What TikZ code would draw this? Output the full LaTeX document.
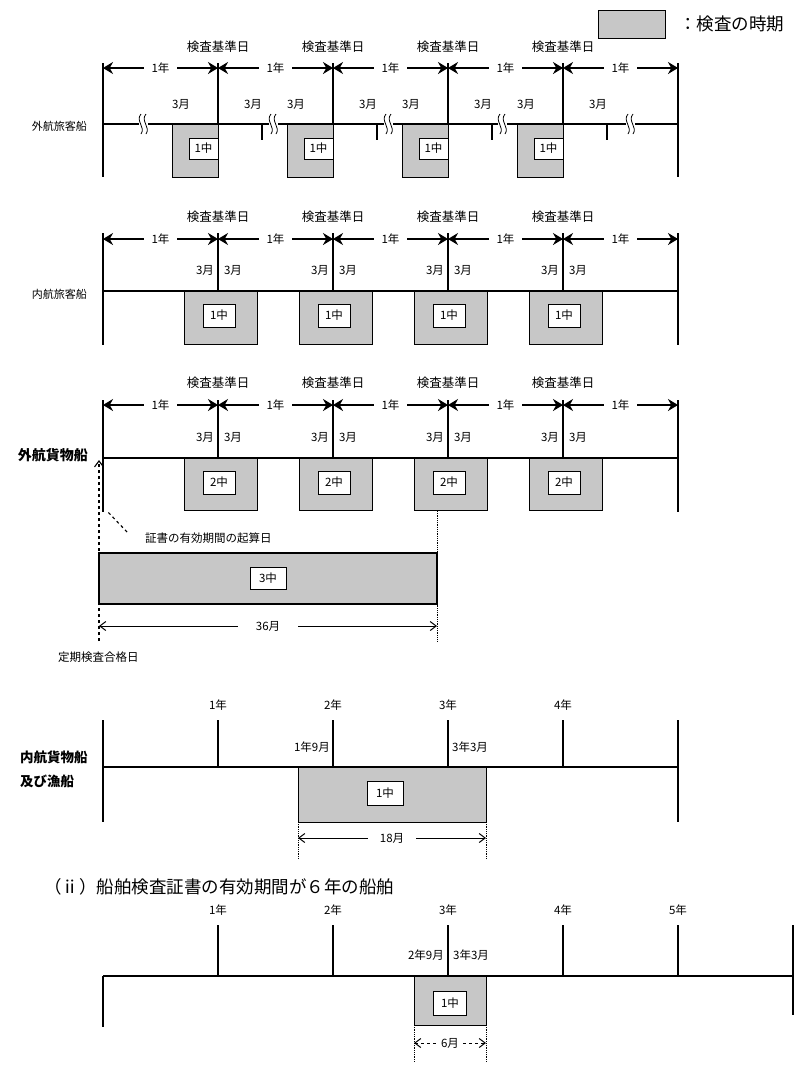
\documentclass[tikz,border=0pt]{standalone}
\usepackage{fontspec}
\newfontfamily\jp{Noto Sans CJK JP}
\usetikzlibrary{arrows.meta}
\newcommand\brkmark[2]{%
  \fill[white] (#1-4,#2-3) rectangle (#1+5,#2+3);
  \draw[line width=0.8pt] (#1-2,#2-10) .. controls (#1-8,#2-3) and (#1+3,#2+3) .. (#1-2,#2+10);
  \draw[line width=0.8pt] (#1+3,#2-10) .. controls (#1-3,#2-3) and (#1+8,#2+3) .. (#1+3,#2+10);
}
\begin{document}
\begin{tikzpicture}[x=1pt,y=-1pt,
  every node/.style={font=\jp, inner sep=1pt},
  lbl/.style={font=\jp\fontsize{11.5}{12}\selectfont},
  hd/.style={font=\jp\fontsize{12.5}{13}\selectfont},
  ship/.style={font=\jp\fontsize{11}{12}\selectfont},
  shipb/.style={font=\jp\bfseries\fontsize{14}{15}\selectfont},
  shade/.style={draw=black, line width=0.8pt, fill=black!22, inner sep=0pt},
  inbox/.style={draw=black, line width=0.8pt, fill=white, inner sep=0pt, font=\jp\fontsize{11.5}{12}\selectfont},
  tl/.style={line width=1.1pt},
  yr/.style={line width=2.6pt, {Stealth[length=10pt,width=12pt]}-{Stealth[length=10pt,width=12pt]}},
  yrlbl/.style={fill=white, inner xsep=8pt, inner ysep=1pt, font=\jp\fontsize{11.5}{12}\selectfont},
  dimarr/.style={line width=1pt, {Straight Barb[length=6pt,width=9pt]}-{Straight Barb[length=6pt,width=9pt]}},
  dimlbl/.style={fill=white, inner xsep=6pt, font=\jp\fontsize{11.5}{12}\selectfont},
  guide/.style={line width=0.8pt, densely dotted},
]
\useasboundingbox (0,0) rectangle (800,1074);

% ---------- legend ----------
\node[shade, minimum width=67pt, minimum height=28pt] (lgbox) at (631.5,24) {};
\node[anchor=west, inner sep=0pt, font=\jp\fontsize{17.5}{18}\selectfont] (lgtxt) at (679,24) {：検査の時期};

% ---------- section 1 : 外航旅客船 ----------
\foreach \i/\x in {0/103,1/218,2/333,3/448,4/563,5/678} {
  \coordinate (a\i t) at (\x,63);
  \coordinate (a\i m) at (\x,68);
  \coordinate (a\i l) at (\x,124);
  \coordinate (a\i b) at (\x,177);
}
\draw[tl] (a0t) -- (a0b);
\draw[tl] (a5t) -- (a5b);
\draw[tl] (a0l) -- (a5l);
\foreach \i/\x in {1/218,2/333,3/448,4/563} {
  \node[shade, minimum width=46pt, minimum height=53pt] (a\i box) at (\x-23,150.5) {};
  \node[inbox, minimum width=29pt, minimum height=21pt] (a\i in) at (\x-14.5,148.5) {1中};
  \draw[tl] (a\i t) -- (a\i l);
  \node[hd] (a\i hd) at (\x,47) {検査基準日};
  \node[lbl] (a\i ml) at (\x-37,104) {3月};
  \node[lbl] (a\i mr) at (\x+35,104) {3月};
  \coordinate (a\i k1) at (\x+44,124);
  \coordinate (a\i k2) at (\x+44,140);
  \draw[tl] (a\i k1) -- (a\i k2);
}
\foreach \i/\j in {0/1,1/2,2/3,3/4,4/5}
  \draw[yr] (a\i m) -- node[yrlbl] (a\i yr) {1年} (a\j m);
\foreach \x in {143,273,388,502,630} { \brkmark{\x}{124} }
\node[ship, anchor=east] (a ship) at (88,126) {外航旅客船};

% ---------- section 2 : 内航旅客船 ----------
\foreach \i/\x in {0/103,1/218,2/333,3/448,4/563,5/678} {
  \coordinate (b\i t) at (\x,233);
  \coordinate (b\i m) at (\x,239);
  \coordinate (b\i l) at (\x,291);
  \coordinate (b\i b) at (\x,345);
}
\foreach \i/\x in {1/218,2/333,3/448,4/563} {
  \node[shade, minimum width=73pt, minimum height=53pt] (b\i box) at (\x+2.5,317.5) {};
  \node[inbox, minimum width=32pt, minimum height=23pt] (b\i in) at (\x+1,315.5) {1中};
  \draw[tl] (b\i t) -- (b\i l);
  \node[hd] (b\i hd) at (\x,217) {検査基準日};
  \node[lbl] (b\i ml) at (\x-13,270) {3月};
  \node[lbl] (b\i mr) at (\x+15,270) {3月};
}
\draw[tl] (b0t) -- (b0b);
\draw[tl] (b5t) -- (b5b);
\draw[tl] (b0l) -- (b5l);
\foreach \i/\j in {0/1,1/2,2/3,3/4,4/5}
  \draw[yr] (b\i m) -- node[yrlbl] (b\i yr) {1年} (b\j m);
\node[ship, anchor=east] (b ship) at (88,294) {内航旅客船};

% ---------- section 3 : 外航貨物船 ----------
\foreach \i/\x in {0/103,1/218,2/333,3/448,4/563,5/678} {
  \coordinate (c\i t) at (\x,400);
  \coordinate (c\i m) at (\x,405);
  \coordinate (c\i l) at (\x,458);
  \coordinate (c\i b) at (\x,512);
}
\foreach \i/\x in {1/218,2/333,3/448,4/563} {
  \node[shade, minimum width=73pt, minimum height=52pt] (c\i box) at (\x+2.5,484) {};
  \node[inbox, minimum width=32pt, minimum height=23pt] (c\i in) at (\x+1,482.5) {2中};
  \draw[tl] (c\i t) -- (c\i l);
  \node[hd] (c\i hd) at (\x,383) {検査基準日};
  \node[lbl] (c\i ml) at (\x-13,437) {3月};
  \node[lbl] (c\i mr) at (\x+15,437) {3月};
}
\draw[tl] (c0t) -- (c0b);
\draw[tl] (c5t) -- (c5b);
\draw[tl] (c0l) -- (c5l);
\foreach \i/\j in {0/1,1/2,2/3,3/4,4/5}
  \draw[yr] (c\i m) -- node[yrlbl] (c\i yr) {1年} (c\j m);
\node[shipb, anchor=east] (c ship) at (89,455) {外航貨物船};

% 3中 period
\coordinate (d tip) at (99,460);
\coordinate (d bot) at (99,641);
\draw[line width=1.1pt, dashed, -{Straight Barb[length=6pt,width=9pt]}] (d bot) -- (d tip);
\coordinate (e top) at (437,511);
\coordinate (e bot) at (437,641);
\draw[guide] (e top) -- (e bot);
\node[shade, line width=1.4pt, minimum width=338pt, minimum height=51pt] (d box) at (268,578.5) {};
\node[inbox, minimum width=36pt, minimum height=22pt] (d in) at (268,578) {3中};
\node[lbl, anchor=west] (d start) at (144,538) {証書の有効期間の起算日};
\coordinate (d p1) at (108,512);
\coordinate (d p2) at (127,532);
\draw[line width=1.1pt, dashed] (d p2) -- (d p1);
\coordinate (d a1) at (99,626);
\coordinate (d a2) at (437,626);
\draw[dimarr] (d a1) -- node[dimlbl, inner xsep=18pt] (d dim) {36月} (d a2);
\node[lbl, anchor=west] (d pass) at (57,657) {定期検査合格日};

% ---------- section 4 : 内航貨物船及び漁船 ----------
\foreach \i/\x in {0/103,1/218,2/333,3/448,4/563,5/678} {
  \coordinate (f\i t) at (\x,720);
  \coordinate (f\i l) at (\x,767);
  \coordinate (f\i b) at (\x,822);
}
\node[shade, minimum width=188pt, minimum height=55pt] (f box) at (392,794.5) {};
\node[inbox, minimum width=36pt, minimum height=24pt] (f in) at (385,793) {1中};
\foreach \i/\x in {1/218,2/333,3/448,4/563} {
  \draw[tl] (f\i t) -- (f\i l);
  \node[lbl] (f\i yl) at (\x,705) {\i 年};
}
\draw[tl] (f0t) -- (f0b);
\draw[tl] (f5t) -- (f5b);
\draw[tl] (f0l) -- (f5l);
\node[lbl, anchor=east] (f m1) at (331,747) {1年9月};
\node[lbl, anchor=west] (f m2) at (451,747) {3年3月};
\coordinate (f g1t) at (298,822);
\coordinate (f g1b) at (298,859);
\coordinate (f g2t) at (486,822);
\coordinate (f g2b) at (486,859);
\draw[guide] (f g1t) -- (f g1b);
\draw[guide] (f g2t) -- (f g2b);
\coordinate (f a1) at (298,838);
\coordinate (f a2) at (486,838);
\draw[dimarr] (f a1) -- node[dimlbl, inner xsep=12pt] (f dim) {18月} (f a2);
\node[shipb, anchor=west, font=\jp\bfseries\fontsize{13.5}{14}\selectfont] (f ship1) at (19,757) {内航貨物船};
\node[shipb, anchor=west, font=\jp\bfseries\fontsize{13.5}{14}\selectfont] (f ship2) at (19,781) {及び漁船};

% ---------- section 5 : 6年の船舶 ----------
\node[anchor=west, inner sep=0pt, font=\jp\fontsize{17.5}{18}\selectfont] (g title) at (44,887) {（ⅱ）船舶検査証書の有効期間が６年の船舶};
\foreach \i/\x in {0/103,1/218,2/333,3/448,4/563,5/678,6/793} {
  \coordinate (g\i t) at (\x,925);
  \coordinate (g\i l) at (\x,976);
}
\coordinate (g0b) at (103,1027);
\coordinate (g6b) at (793,1015);
\node[shade, minimum width=72pt, minimum height=49pt] (g box) at (450,1000.5) {};
\node[inbox, minimum width=33pt, minimum height=24pt] (g in) at (450,1003) {1中};
\foreach \i/\x in {1/218,2/333,3/448,4/563,5/678} {
  \draw[tl] (g\i t) -- (g\i l);
  \node[lbl] (g\i yl) at (\x,910) {\i 年};
}
\draw[tl] (g0l) -- (g0b);
\draw[tl] (g6t) -- (g6b);
\draw[tl] (g0l) -- (g6l);
\node[lbl, anchor=east] (g m1) at (445,955) {2年9月};
\node[lbl, anchor=west] (g m2) at (452,955) {3年3月};
\coordinate (g g1t) at (414,1025);
\coordinate (g g1b) at (414,1062);
\coordinate (g g2t) at (486,1025);
\coordinate (g g2b) at (486,1062);
\draw[guide] (g g1t) -- (g g1b);
\draw[guide] (g g2t) -- (g g2b);
\coordinate (g a1) at (414,1043);
\coordinate (g a2) at (486,1043);
\draw[dimarr, dashed] (g a1) -- node[dimlbl, inner xsep=4pt] (g dim) {6月} (g a2);
\end{tikzpicture}
\end{document}
